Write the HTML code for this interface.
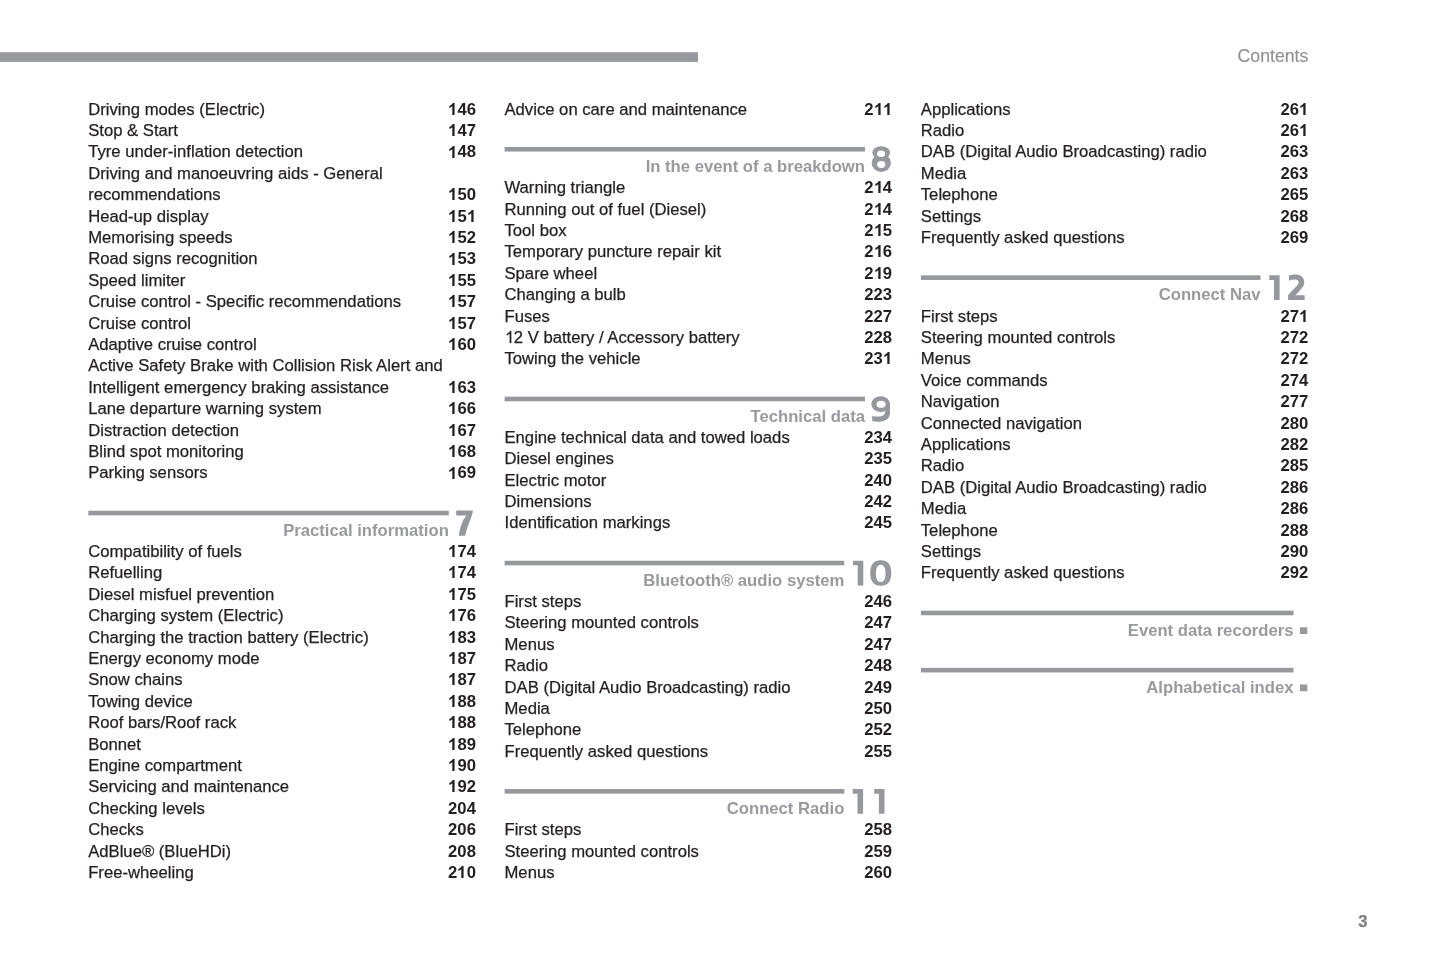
<!DOCTYPE html>
<html><head><meta charset="utf-8"><style>
html,body{margin:0;padding:0;background:#fff;}
body{width:1445px;height:964px;position:relative;overflow:hidden;font-family:"Liberation Sans",sans-serif;}
.t{position:absolute;font-size:16.67px;line-height:0;white-space:nowrap;color:#231f20;-webkit-text-stroke-width:0.25px;}
.wrap{position:absolute;left:0;top:0;width:1445px;height:964px;will-change:transform;}
.n{font-weight:bold;-webkit-text-stroke-width:0;}
.o{display:inline-block;width:0.55615em;height:0;position:relative;}
.o svg{position:absolute;left:0;bottom:0;width:0.55615em;height:0.7158em;fill:currentColor;overflow:visible;}
.t:not(.n) .o svg{stroke:currentColor;stroke-width:30;}
.h{font-weight:bold;color:#999a9e;-webkit-text-stroke-width:0;}
svg.bg{position:absolute;left:0;top:0;}
</style></head><body>
<svg class="bg" width="1445" height="964" viewBox="0 0 1445 964">
<rect x="0" y="52.2" width="698" height="9.7" fill="#98999d"/>
<rect x="88.30" y="510.75" width="360.50" height="4.6" fill="#97989c"/>
<path d="M456.20 510.60L472.90 510.60C472.60 514.95 470.00 521.05 467.60 526.80L465.10 535.70L458.70 535.70C459.50 530.05 461.50 523.45 463.60 519.50L466.30 515.50L456.20 515.50Z" fill="#97989c"/>
<rect x="504.60" y="146.95" width="360.40" height="4.6" fill="#97989c"/>
<ellipse cx="881.20" cy="152.60" rx="8.9" ry="6.4" fill="#97989c"/><ellipse cx="881.25" cy="162.90" rx="9.65" ry="9.1" fill="#97989c"/><ellipse cx="881.10" cy="153.80" rx="4.0" ry="3.3" fill="#fff"/><ellipse cx="881.25" cy="164.60" rx="4.15" ry="3.5" fill="#fff"/>
<rect x="504.60" y="396.65" width="360.40" height="4.6" fill="#97989c"/>
<ellipse cx="880.65" cy="404.10" rx="9.35" ry="7.9" fill="#97989c"/><path d="M890.00 404.10L890.00 412.65C890.00 418.65 885.10 421.65 878.30 421.65C876.10 421.65 874.10 421.35 872.20 420.95L872.20 416.00C874.10 416.35 876.10 416.55 878.10 416.55C883.10 416.55 885.60 414.15 885.60 409.65L885.60 404.35Z" fill="#97989c"/><ellipse cx="881.10" cy="404.35" rx="4.5" ry="3.55" fill="#fff"/>
<rect x="504.60" y="560.75" width="339.70" height="4.6" fill="#97989c"/>
<path d="M853.00 560.75H863.30V585.45H857.70V565.35H853.00Z" fill="#97989c"/><path d="M891.30 573.10C891.30 581.51 887.71 585.85 880.75 585.85C873.79 585.85 870.20 581.51 870.20 573.10C870.20 564.68 873.79 560.35 880.75 560.35C887.71 560.35 891.30 564.68 891.30 573.10Z" fill="#97989c"/><path d="M885.50 573.45C885.50 578.99 883.77 582.10 880.70 582.10C877.63 582.10 875.90 578.99 875.90 573.45C875.90 567.91 877.63 564.80 880.70 564.80C883.77 564.80 885.50 567.91 885.50 573.45Z" fill="#fff"/>
<rect x="504.60" y="789.05" width="339.70" height="4.6" fill="#97989c"/>
<path d="M852.80 789.05H863.10V813.75H857.50V793.65H852.80Z" fill="#97989c"/><path d="M874.20 789.05H884.50V813.75H878.90V793.65H874.20Z" fill="#97989c"/>
<rect x="920.90" y="275.35" width="339.60" height="4.6" fill="#97989c"/>
<path d="M1269.30 275.35H1279.60V300.05H1274.00V279.95H1269.30Z" fill="#97989c"/><path d="M1288.90 275.40C1291.00 274.60 1293.50 274.40 1296.00 274.40C1301.00 274.40 1304.30 277.50 1304.30 282.30C1304.30 285.50 1302.80 287.50 1300.50 289.60L1295.60 295.20L1304.60 295.20L1304.60 300.00L1288.10 300.00L1288.10 295.00L1296.20 286.50C1298.00 284.60 1298.60 283.50 1298.60 282.30C1298.60 280.30 1297.30 279.40 1295.20 279.40C1293.00 279.40 1291.00 279.80 1288.90 280.50Z" fill="#97989c"/>
<rect x="920.90" y="610.65" width="372.60" height="4.6" fill="#97989c"/>
<rect x="1299.90" y="627.30" width="7.4" height="6.7" fill="#97989c"/>
<rect x="920.90" y="667.85" width="372.60" height="4.6" fill="#97989c"/>
<rect x="1299.90" y="684.50" width="7.4" height="6.7" fill="#97989c"/>
</svg>
<div class="wrap">
<div class="t" style="right:136.7px;top:55.6px;font-size:17.7px;color:#8f8f8f;-webkit-text-stroke-width:0.1px">Contents</div>
<div class="t" style="left:1358.2px;top:921.8px;font-weight:bold;color:#7f7f7f">3</div>
<div class="t" style="left:88.20px;top:109.65px">Driving modes (Electric)</div>
<div class="t n" style="right:969.10px;top:109.65px"><span class="o"><svg viewBox="0 0 1139 1466"><path d="M809 1466L528 1466L528 407C425 503 304 574 165 620L165 365C238 341 318 295 404 228C490 161 549 85 581 0L809 0Z"/></svg></span>46</div>
<div class="t" style="left:88.20px;top:131.05px">Stop &amp; Start</div>
<div class="t n" style="right:969.10px;top:131.05px"><span class="o"><svg viewBox="0 0 1139 1466"><path d="M809 1466L528 1466L528 407C425 503 304 574 165 620L165 365C238 341 318 295 404 228C490 161 549 85 581 0L809 0Z"/></svg></span>47</div>
<div class="t" style="left:88.20px;top:152.45px">Tyre under-inflation detection</div>
<div class="t n" style="right:969.10px;top:152.45px"><span class="o"><svg viewBox="0 0 1139 1466"><path d="M809 1466L528 1466L528 407C425 503 304 574 165 620L165 365C238 341 318 295 404 228C490 161 549 85 581 0L809 0Z"/></svg></span>48</div>
<div class="t" style="left:88.20px;top:173.85px">Driving and manoeuvring aids - General</div>
<div class="t" style="left:88.20px;top:195.25px">recommendations</div>
<div class="t n" style="right:969.10px;top:195.25px"><span class="o"><svg viewBox="0 0 1139 1466"><path d="M809 1466L528 1466L528 407C425 503 304 574 165 620L165 365C238 341 318 295 404 228C490 161 549 85 581 0L809 0Z"/></svg></span>50</div>
<div class="t" style="left:88.20px;top:216.65px">Head-up display</div>
<div class="t n" style="right:969.10px;top:216.65px"><span class="o"><svg viewBox="0 0 1139 1466"><path d="M809 1466L528 1466L528 407C425 503 304 574 165 620L165 365C238 341 318 295 404 228C490 161 549 85 581 0L809 0Z"/></svg></span>5<span class="o"><svg viewBox="0 0 1139 1466"><path d="M809 1466L528 1466L528 407C425 503 304 574 165 620L165 365C238 341 318 295 404 228C490 161 549 85 581 0L809 0Z"/></svg></span></div>
<div class="t" style="left:88.20px;top:238.05px">Memorising speeds</div>
<div class="t n" style="right:969.10px;top:238.05px"><span class="o"><svg viewBox="0 0 1139 1466"><path d="M809 1466L528 1466L528 407C425 503 304 574 165 620L165 365C238 341 318 295 404 228C490 161 549 85 581 0L809 0Z"/></svg></span>52</div>
<div class="t" style="left:88.20px;top:259.45px">Road signs recognition</div>
<div class="t n" style="right:969.10px;top:259.45px"><span class="o"><svg viewBox="0 0 1139 1466"><path d="M809 1466L528 1466L528 407C425 503 304 574 165 620L165 365C238 341 318 295 404 228C490 161 549 85 581 0L809 0Z"/></svg></span>53</div>
<div class="t" style="left:88.20px;top:280.85px">Speed limiter</div>
<div class="t n" style="right:969.10px;top:280.85px"><span class="o"><svg viewBox="0 0 1139 1466"><path d="M809 1466L528 1466L528 407C425 503 304 574 165 620L165 365C238 341 318 295 404 228C490 161 549 85 581 0L809 0Z"/></svg></span>55</div>
<div class="t" style="left:88.20px;top:302.25px">Cruise control - Specific recommendations</div>
<div class="t n" style="right:969.10px;top:302.25px"><span class="o"><svg viewBox="0 0 1139 1466"><path d="M809 1466L528 1466L528 407C425 503 304 574 165 620L165 365C238 341 318 295 404 228C490 161 549 85 581 0L809 0Z"/></svg></span>57</div>
<div class="t" style="left:88.20px;top:323.65px">Cruise control</div>
<div class="t n" style="right:969.10px;top:323.65px"><span class="o"><svg viewBox="0 0 1139 1466"><path d="M809 1466L528 1466L528 407C425 503 304 574 165 620L165 365C238 341 318 295 404 228C490 161 549 85 581 0L809 0Z"/></svg></span>57</div>
<div class="t" style="left:88.20px;top:345.05px">Adaptive cruise control</div>
<div class="t n" style="right:969.10px;top:345.05px"><span class="o"><svg viewBox="0 0 1139 1466"><path d="M809 1466L528 1466L528 407C425 503 304 574 165 620L165 365C238 341 318 295 404 228C490 161 549 85 581 0L809 0Z"/></svg></span>60</div>
<div class="t" style="left:88.20px;top:366.45px">Active Safety Brake with Collision Risk Alert and</div>
<div class="t" style="left:88.20px;top:387.85px">Intelligent emergency braking assistance</div>
<div class="t n" style="right:969.10px;top:387.85px"><span class="o"><svg viewBox="0 0 1139 1466"><path d="M809 1466L528 1466L528 407C425 503 304 574 165 620L165 365C238 341 318 295 404 228C490 161 549 85 581 0L809 0Z"/></svg></span>63</div>
<div class="t" style="left:88.20px;top:409.25px">Lane departure warning system</div>
<div class="t n" style="right:969.10px;top:409.25px"><span class="o"><svg viewBox="0 0 1139 1466"><path d="M809 1466L528 1466L528 407C425 503 304 574 165 620L165 365C238 341 318 295 404 228C490 161 549 85 581 0L809 0Z"/></svg></span>66</div>
<div class="t" style="left:88.20px;top:430.65px">Distraction detection</div>
<div class="t n" style="right:969.10px;top:430.65px"><span class="o"><svg viewBox="0 0 1139 1466"><path d="M809 1466L528 1466L528 407C425 503 304 574 165 620L165 365C238 341 318 295 404 228C490 161 549 85 581 0L809 0Z"/></svg></span>67</div>
<div class="t" style="left:88.20px;top:452.05px">Blind spot monitoring</div>
<div class="t n" style="right:969.10px;top:452.05px"><span class="o"><svg viewBox="0 0 1139 1466"><path d="M809 1466L528 1466L528 407C425 503 304 574 165 620L165 365C238 341 318 295 404 228C490 161 549 85 581 0L809 0Z"/></svg></span>68</div>
<div class="t" style="left:88.20px;top:473.45px">Parking sensors</div>
<div class="t n" style="right:969.10px;top:473.45px"><span class="o"><svg viewBox="0 0 1139 1466"><path d="M809 1466L528 1466L528 407C425 503 304 574 165 620L165 365C238 341 318 295 404 228C490 161 549 85 581 0L809 0Z"/></svg></span>69</div>
<div class="t h" style="right:996.20px;top:530.60px">Practical information</div>
<div class="t" style="left:88.20px;top:551.95px">Compatibility of fuels</div>
<div class="t n" style="right:969.10px;top:551.95px"><span class="o"><svg viewBox="0 0 1139 1466"><path d="M809 1466L528 1466L528 407C425 503 304 574 165 620L165 365C238 341 318 295 404 228C490 161 549 85 581 0L809 0Z"/></svg></span>74</div>
<div class="t" style="left:88.20px;top:573.35px">Refuelling</div>
<div class="t n" style="right:969.10px;top:573.35px"><span class="o"><svg viewBox="0 0 1139 1466"><path d="M809 1466L528 1466L528 407C425 503 304 574 165 620L165 365C238 341 318 295 404 228C490 161 549 85 581 0L809 0Z"/></svg></span>74</div>
<div class="t" style="left:88.20px;top:594.75px">Diesel misfuel prevention</div>
<div class="t n" style="right:969.10px;top:594.75px"><span class="o"><svg viewBox="0 0 1139 1466"><path d="M809 1466L528 1466L528 407C425 503 304 574 165 620L165 365C238 341 318 295 404 228C490 161 549 85 581 0L809 0Z"/></svg></span>75</div>
<div class="t" style="left:88.20px;top:616.15px">Charging system (Electric)</div>
<div class="t n" style="right:969.10px;top:616.15px"><span class="o"><svg viewBox="0 0 1139 1466"><path d="M809 1466L528 1466L528 407C425 503 304 574 165 620L165 365C238 341 318 295 404 228C490 161 549 85 581 0L809 0Z"/></svg></span>76</div>
<div class="t" style="left:88.20px;top:637.55px">Charging the traction battery (Electric)</div>
<div class="t n" style="right:969.10px;top:637.55px"><span class="o"><svg viewBox="0 0 1139 1466"><path d="M809 1466L528 1466L528 407C425 503 304 574 165 620L165 365C238 341 318 295 404 228C490 161 549 85 581 0L809 0Z"/></svg></span>83</div>
<div class="t" style="left:88.20px;top:658.95px">Energy economy mode</div>
<div class="t n" style="right:969.10px;top:658.95px"><span class="o"><svg viewBox="0 0 1139 1466"><path d="M809 1466L528 1466L528 407C425 503 304 574 165 620L165 365C238 341 318 295 404 228C490 161 549 85 581 0L809 0Z"/></svg></span>87</div>
<div class="t" style="left:88.20px;top:680.35px">Snow chains</div>
<div class="t n" style="right:969.10px;top:680.35px"><span class="o"><svg viewBox="0 0 1139 1466"><path d="M809 1466L528 1466L528 407C425 503 304 574 165 620L165 365C238 341 318 295 404 228C490 161 549 85 581 0L809 0Z"/></svg></span>87</div>
<div class="t" style="left:88.20px;top:701.75px">Towing device</div>
<div class="t n" style="right:969.10px;top:701.75px"><span class="o"><svg viewBox="0 0 1139 1466"><path d="M809 1466L528 1466L528 407C425 503 304 574 165 620L165 365C238 341 318 295 404 228C490 161 549 85 581 0L809 0Z"/></svg></span>88</div>
<div class="t" style="left:88.20px;top:723.15px">Roof bars/Roof rack</div>
<div class="t n" style="right:969.10px;top:723.15px"><span class="o"><svg viewBox="0 0 1139 1466"><path d="M809 1466L528 1466L528 407C425 503 304 574 165 620L165 365C238 341 318 295 404 228C490 161 549 85 581 0L809 0Z"/></svg></span>88</div>
<div class="t" style="left:88.20px;top:744.55px">Bonnet</div>
<div class="t n" style="right:969.10px;top:744.55px"><span class="o"><svg viewBox="0 0 1139 1466"><path d="M809 1466L528 1466L528 407C425 503 304 574 165 620L165 365C238 341 318 295 404 228C490 161 549 85 581 0L809 0Z"/></svg></span>89</div>
<div class="t" style="left:88.20px;top:765.95px">Engine compartment</div>
<div class="t n" style="right:969.10px;top:765.95px"><span class="o"><svg viewBox="0 0 1139 1466"><path d="M809 1466L528 1466L528 407C425 503 304 574 165 620L165 365C238 341 318 295 404 228C490 161 549 85 581 0L809 0Z"/></svg></span>90</div>
<div class="t" style="left:88.20px;top:787.35px">Servicing and maintenance</div>
<div class="t n" style="right:969.10px;top:787.35px"><span class="o"><svg viewBox="0 0 1139 1466"><path d="M809 1466L528 1466L528 407C425 503 304 574 165 620L165 365C238 341 318 295 404 228C490 161 549 85 581 0L809 0Z"/></svg></span>92</div>
<div class="t" style="left:88.20px;top:808.75px">Checking levels</div>
<div class="t n" style="right:969.10px;top:808.75px">204</div>
<div class="t" style="left:88.20px;top:830.15px">Checks</div>
<div class="t n" style="right:969.10px;top:830.15px">206</div>
<div class="t" style="left:88.20px;top:851.55px">AdBlue® (BlueHDi)</div>
<div class="t n" style="right:969.10px;top:851.55px">208</div>
<div class="t" style="left:88.20px;top:872.95px">Free-wheeling</div>
<div class="t n" style="right:969.10px;top:872.95px">2<span class="o"><svg viewBox="0 0 1139 1466"><path d="M809 1466L528 1466L528 407C425 503 304 574 165 620L165 365C238 341 318 295 404 228C490 161 549 85 581 0L809 0Z"/></svg></span>0</div>
<div class="t" style="left:504.50px;top:109.65px">Advice on care and maintenance</div>
<div class="t n" style="right:552.90px;top:109.65px">2<span class="o"><svg viewBox="0 0 1139 1466"><path d="M809 1466L528 1466L528 407C425 503 304 574 165 620L165 365C238 341 318 295 404 228C490 161 549 85 581 0L809 0Z"/></svg></span><span class="o"><svg viewBox="0 0 1139 1466"><path d="M809 1466L528 1466L528 407C425 503 304 574 165 620L165 365C238 341 318 295 404 228C490 161 549 85 581 0L809 0Z"/></svg></span></div>
<div class="t h" style="right:580.00px;top:166.80px">In the event of a breakdown</div>
<div class="t" style="left:504.50px;top:188.15px">Warning triangle</div>
<div class="t n" style="right:552.90px;top:188.15px">2<span class="o"><svg viewBox="0 0 1139 1466"><path d="M809 1466L528 1466L528 407C425 503 304 574 165 620L165 365C238 341 318 295 404 228C490 161 549 85 581 0L809 0Z"/></svg></span>4</div>
<div class="t" style="left:504.50px;top:209.55px">Running out of fuel (Diesel)</div>
<div class="t n" style="right:552.90px;top:209.55px">2<span class="o"><svg viewBox="0 0 1139 1466"><path d="M809 1466L528 1466L528 407C425 503 304 574 165 620L165 365C238 341 318 295 404 228C490 161 549 85 581 0L809 0Z"/></svg></span>4</div>
<div class="t" style="left:504.50px;top:230.95px">Tool box</div>
<div class="t n" style="right:552.90px;top:230.95px">2<span class="o"><svg viewBox="0 0 1139 1466"><path d="M809 1466L528 1466L528 407C425 503 304 574 165 620L165 365C238 341 318 295 404 228C490 161 549 85 581 0L809 0Z"/></svg></span>5</div>
<div class="t" style="left:504.50px;top:252.35px">Temporary puncture repair kit</div>
<div class="t n" style="right:552.90px;top:252.35px">2<span class="o"><svg viewBox="0 0 1139 1466"><path d="M809 1466L528 1466L528 407C425 503 304 574 165 620L165 365C238 341 318 295 404 228C490 161 549 85 581 0L809 0Z"/></svg></span>6</div>
<div class="t" style="left:504.50px;top:273.75px">Spare wheel</div>
<div class="t n" style="right:552.90px;top:273.75px">2<span class="o"><svg viewBox="0 0 1139 1466"><path d="M809 1466L528 1466L528 407C425 503 304 574 165 620L165 365C238 341 318 295 404 228C490 161 549 85 581 0L809 0Z"/></svg></span>9</div>
<div class="t" style="left:504.50px;top:295.15px">Changing a bulb</div>
<div class="t n" style="right:552.90px;top:295.15px">223</div>
<div class="t" style="left:504.50px;top:316.55px">Fuses</div>
<div class="t n" style="right:552.90px;top:316.55px">227</div>
<div class="t" style="left:504.50px;top:337.95px"><span class="o"><svg viewBox="0 0 1139 1466"><path d="M763 1466L583 1466L583 319C540 360 483 401 413 442C343 483 280 514 225 535L225 360C326 313 413 256 488 188C563 121 616 58 647 0L763 0Z"/></svg></span>2 V battery / Accessory battery</div>
<div class="t n" style="right:552.90px;top:337.95px">228</div>
<div class="t" style="left:504.50px;top:359.35px">Towing the vehicle</div>
<div class="t n" style="right:552.90px;top:359.35px">23<span class="o"><svg viewBox="0 0 1139 1466"><path d="M809 1466L528 1466L528 407C425 503 304 574 165 620L165 365C238 341 318 295 404 228C490 161 549 85 581 0L809 0Z"/></svg></span></div>
<div class="t h" style="right:580.00px;top:416.50px">Technical data</div>
<div class="t" style="left:504.50px;top:437.85px">Engine technical data and towed loads</div>
<div class="t n" style="right:552.90px;top:437.85px">234</div>
<div class="t" style="left:504.50px;top:459.25px">Diesel engines</div>
<div class="t n" style="right:552.90px;top:459.25px">235</div>
<div class="t" style="left:504.50px;top:480.65px">Electric motor</div>
<div class="t n" style="right:552.90px;top:480.65px">240</div>
<div class="t" style="left:504.50px;top:502.05px">Dimensions</div>
<div class="t n" style="right:552.90px;top:502.05px">242</div>
<div class="t" style="left:504.50px;top:523.45px">Identification markings</div>
<div class="t n" style="right:552.90px;top:523.45px">245</div>
<div class="t h" style="right:600.70px;top:580.60px">Bluetooth® audio system</div>
<div class="t" style="left:504.50px;top:601.95px">First steps</div>
<div class="t n" style="right:552.90px;top:601.95px">246</div>
<div class="t" style="left:504.50px;top:623.35px">Steering mounted controls</div>
<div class="t n" style="right:552.90px;top:623.35px">247</div>
<div class="t" style="left:504.50px;top:644.75px">Menus</div>
<div class="t n" style="right:552.90px;top:644.75px">247</div>
<div class="t" style="left:504.50px;top:666.15px">Radio</div>
<div class="t n" style="right:552.90px;top:666.15px">248</div>
<div class="t" style="left:504.50px;top:687.55px">DAB (Digital Audio Broadcasting) radio</div>
<div class="t n" style="right:552.90px;top:687.55px">249</div>
<div class="t" style="left:504.50px;top:708.95px">Media</div>
<div class="t n" style="right:552.90px;top:708.95px">250</div>
<div class="t" style="left:504.50px;top:730.35px">Telephone</div>
<div class="t n" style="right:552.90px;top:730.35px">252</div>
<div class="t" style="left:504.50px;top:751.75px">Frequently asked questions</div>
<div class="t n" style="right:552.90px;top:751.75px">255</div>
<div class="t h" style="right:600.70px;top:808.90px">Connect Radio</div>
<div class="t" style="left:504.50px;top:830.25px">First steps</div>
<div class="t n" style="right:552.90px;top:830.25px">258</div>
<div class="t" style="left:504.50px;top:851.65px">Steering mounted controls</div>
<div class="t n" style="right:552.90px;top:851.65px">259</div>
<div class="t" style="left:504.50px;top:873.05px">Menus</div>
<div class="t n" style="right:552.90px;top:873.05px">260</div>
<div class="t" style="left:920.80px;top:109.65px">Applications</div>
<div class="t n" style="right:136.70px;top:109.65px">26<span class="o"><svg viewBox="0 0 1139 1466"><path d="M809 1466L528 1466L528 407C425 503 304 574 165 620L165 365C238 341 318 295 404 228C490 161 549 85 581 0L809 0Z"/></svg></span></div>
<div class="t" style="left:920.80px;top:131.05px">Radio</div>
<div class="t n" style="right:136.70px;top:131.05px">26<span class="o"><svg viewBox="0 0 1139 1466"><path d="M809 1466L528 1466L528 407C425 503 304 574 165 620L165 365C238 341 318 295 404 228C490 161 549 85 581 0L809 0Z"/></svg></span></div>
<div class="t" style="left:920.80px;top:152.45px">DAB (Digital Audio Broadcasting) radio</div>
<div class="t n" style="right:136.70px;top:152.45px">263</div>
<div class="t" style="left:920.80px;top:173.85px">Media</div>
<div class="t n" style="right:136.70px;top:173.85px">263</div>
<div class="t" style="left:920.80px;top:195.25px">Telephone</div>
<div class="t n" style="right:136.70px;top:195.25px">265</div>
<div class="t" style="left:920.80px;top:216.65px">Settings</div>
<div class="t n" style="right:136.70px;top:216.65px">268</div>
<div class="t" style="left:920.80px;top:238.05px">Frequently asked questions</div>
<div class="t n" style="right:136.70px;top:238.05px">269</div>
<div class="t h" style="right:184.50px;top:295.20px">Connect Nav</div>
<div class="t" style="left:920.80px;top:316.55px">First steps</div>
<div class="t n" style="right:136.70px;top:316.55px">27<span class="o"><svg viewBox="0 0 1139 1466"><path d="M809 1466L528 1466L528 407C425 503 304 574 165 620L165 365C238 341 318 295 404 228C490 161 549 85 581 0L809 0Z"/></svg></span></div>
<div class="t" style="left:920.80px;top:337.95px">Steering mounted controls</div>
<div class="t n" style="right:136.70px;top:337.95px">272</div>
<div class="t" style="left:920.80px;top:359.35px">Menus</div>
<div class="t n" style="right:136.70px;top:359.35px">272</div>
<div class="t" style="left:920.80px;top:380.75px">Voice commands</div>
<div class="t n" style="right:136.70px;top:380.75px">274</div>
<div class="t" style="left:920.80px;top:402.15px">Navigation</div>
<div class="t n" style="right:136.70px;top:402.15px">277</div>
<div class="t" style="left:920.80px;top:423.55px">Connected navigation</div>
<div class="t n" style="right:136.70px;top:423.55px">280</div>
<div class="t" style="left:920.80px;top:444.95px">Applications</div>
<div class="t n" style="right:136.70px;top:444.95px">282</div>
<div class="t" style="left:920.80px;top:466.35px">Radio</div>
<div class="t n" style="right:136.70px;top:466.35px">285</div>
<div class="t" style="left:920.80px;top:487.75px">DAB (Digital Audio Broadcasting) radio</div>
<div class="t n" style="right:136.70px;top:487.75px">286</div>
<div class="t" style="left:920.80px;top:509.15px">Media</div>
<div class="t n" style="right:136.70px;top:509.15px">286</div>
<div class="t" style="left:920.80px;top:530.55px">Telephone</div>
<div class="t n" style="right:136.70px;top:530.55px">288</div>
<div class="t" style="left:920.80px;top:551.95px">Settings</div>
<div class="t n" style="right:136.70px;top:551.95px">290</div>
<div class="t" style="left:920.80px;top:573.35px">Frequently asked questions</div>
<div class="t n" style="right:136.70px;top:573.35px">292</div>
<div class="t h" style="right:151.50px;top:630.50px">Event data recorders</div>
<div class="t h" style="right:151.50px;top:687.70px">Alphabetical index</div>
</div>
</body></html>
